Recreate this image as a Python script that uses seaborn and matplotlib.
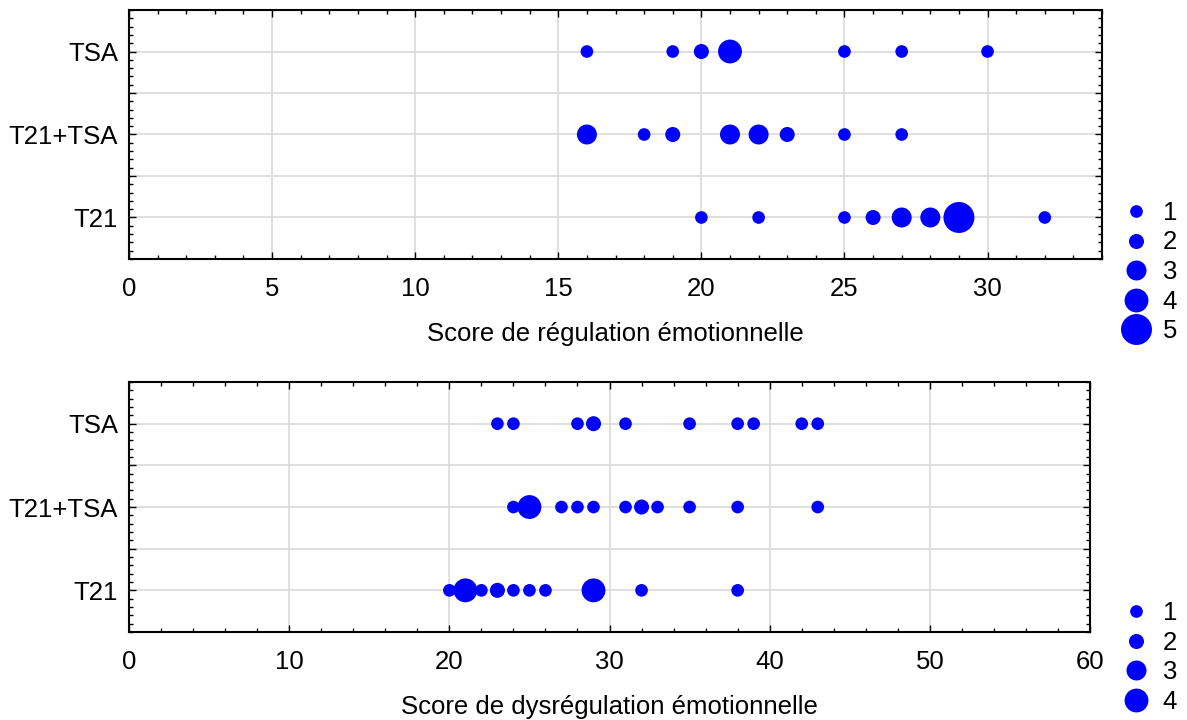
import pandas as pd
import matplotlib
matplotlib.use("Agg")
import matplotlib.pyplot as plt
from matplotlib.ticker import MultipleLocator
import seaborn as sns

# Style
sns.set_style("ticks")
plt.rcParams['font.family'] = ['Liberation Sans', 'DejaVu Sans']
plt.rcParams['text.color'] = 'black'
plt.rcParams['axes.labelcolor'] = 'black'
plt.rcParams['xtick.color'] = 'black'
plt.rcParams['ytick.color'] = 'black'

groups = ["TSA", "T21+TSA", "T21"]

# Score de régulation émotionnelle : score et nombre d'enfants
reg_tsa_score = [16, 19, 20, 21, 25, 27, 30]
reg_tsa_n = [1, 1, 2, 4, 1, 1, 1]
reg_mix_score = [16, 18, 19, 21, 22, 23, 25, 27]
reg_mix_n = [3, 1, 2, 3, 3, 2, 1, 1]
reg_t21_score = [20, 22, 25, 26, 27, 28, 29, 32]
reg_t21_n = [1, 1, 1, 2, 3, 3, 5, 1]

# Score de dysrégulation émotionnelle
dys_tsa_score = [23, 24, 28, 29, 31, 35, 38, 39, 42, 43]
dys_tsa_n = [1, 1, 1, 2, 1, 1, 1, 1, 1, 1]
dys_mix_score = [24, 25, 27, 28, 29, 31, 32, 33, 35, 38, 43]
dys_mix_n = [1, 4, 1, 1, 1, 1, 2, 1, 1, 1, 1]
dys_t21_score = [20, 21, 22, 23, 24, 25, 26, 29, 32, 38]
dys_t21_n = [1, 4, 1, 2, 1, 1, 1, 4, 1, 1]


def make_df(tsa_s, tsa_n, mix_s, mix_n, t21_s, t21_n):
    rows = []
    for g, s_list, n_list in zip(groups, [tsa_s, mix_s, t21_s], [tsa_n, mix_n, t21_n]):
        for s, n in zip(s_list, n_list):
            rows.append({"groupe": g, "score": s, "n": n})
    return pd.DataFrame(rows)


df_reg = make_df(reg_tsa_score, reg_tsa_n, reg_mix_score, reg_mix_n, reg_t21_score, reg_t21_n)
df_dys = make_df(dys_tsa_score, dys_tsa_n, dys_mix_score, dys_mix_n, dys_t21_score, dys_t21_n)

sizes = {1: 83, 2: 117, 3: 207, 4: 295, 5: 497}
fs = 18.5

fig = plt.figure(figsize=(11.87, 7.2), dpi=100)
ax1 = fig.add_axes([0.1087, 0.6403, 0.8197, 0.3458])
ax2 = fig.add_axes([0.1087, 0.1222, 0.8096, 0.3472])


def draw(ax, df, levels, xmax, major, minor, xlabel, leg_top):
    sns.scatterplot(data=df, x="score", y="groupe", size="n", sizes={k: sizes[k] for k in levels},
                    size_order=levels, color="#0000ff", linewidth=0, alpha=1,
                    legend="full", ax=ax, zorder=3)
    ax.set_xlim(0, xmax)
    ax.set_ylim(2.5, -0.5)
    ax.xaxis.set_major_locator(MultipleLocator(major))
    ax.xaxis.set_minor_locator(MultipleLocator(minor))
    ax.set_yticks([0, 0.5, 1, 1.5, 2], labels=["TSA", "", "T21+TSA", "", "T21"])
    ax.yaxis.set_minor_locator(MultipleLocator(0.1))
    ax.grid(True, which="major", color="#dcdcdc", linewidth=1.3)
    ax.set_axisbelow(True)
    ax.tick_params(which="both", direction="in", top=True, right=True, width=1, labelsize=fs)
    ax.tick_params(axis="x", which="major", length=5, pad=13)
    ax.tick_params(axis="y", which="major", length=5, pad=8)
    ax.tick_params(which="minor", length=3)
    for sp in ax.spines.values():
        sp.set_linewidth(1.5)
        sp.set_color("black")
    ax.set_xlabel(xlabel, fontsize=fs, labelpad=15)
    ax.set_ylabel("")
    handles, labels = ax.get_legend_handles_labels()
    ax.legend(handles, labels, loc="upper left", bbox_to_anchor=(0.935, leg_top),
              bbox_transform=fig.transFigure, frameon=False, fontsize=fs,
              handlelength=1, handletextpad=0.55, borderpad=0, labelspacing=0.22)


draw(ax1, df_reg, [1, 2, 3, 4, 5], 34, 5, 1, "Score de régulation émotionnelle", 1 - 188 / 720)
draw(ax2, df_dys, [1, 2, 3, 4], 60, 10, 2, "Score de dysrégulation émotionnelle", 1 - 588 / 720)

plt.savefig("out.png", dpi=100)
